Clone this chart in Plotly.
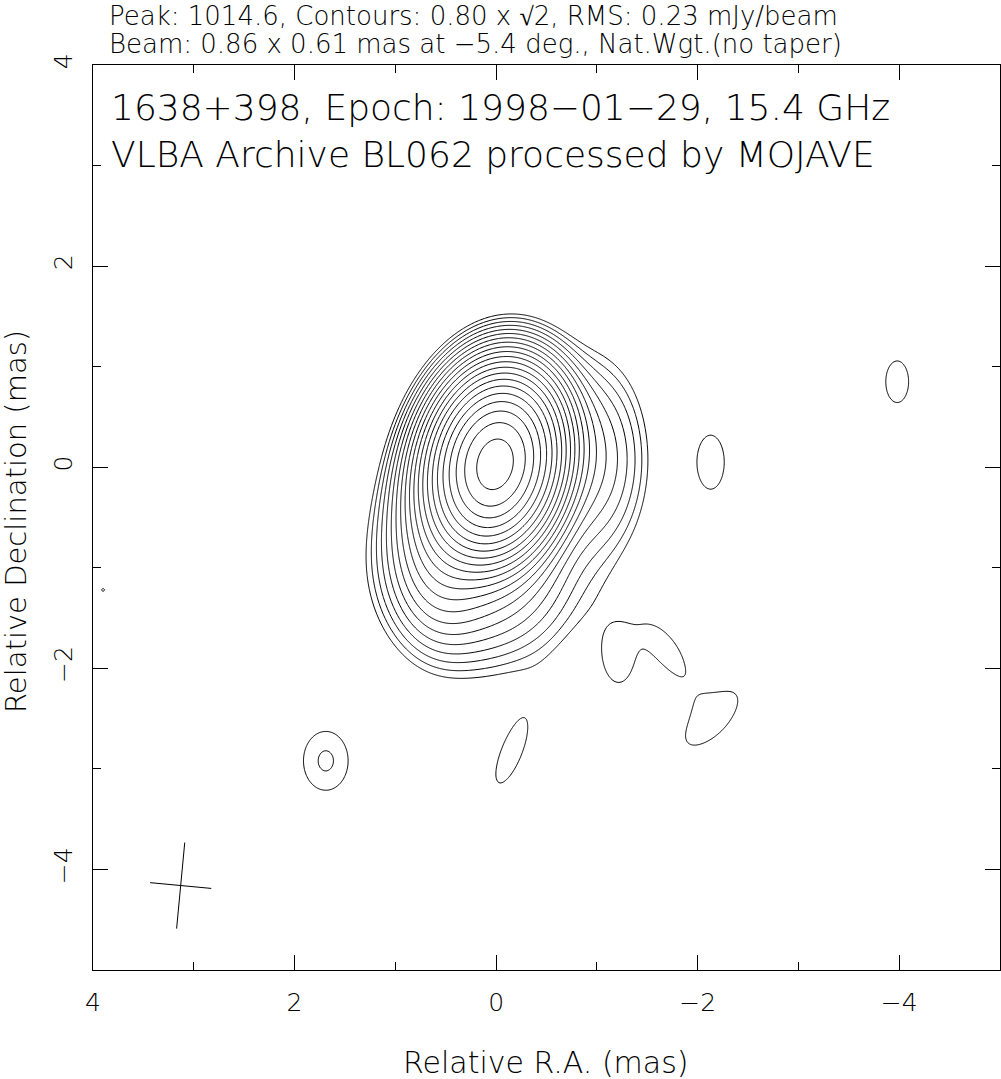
import numpy as np
import plotly.graph_objects as go

# ---- map parameters ----
peak_flux = 1014.6          # mJy/beam
base_level = 0.80           # lowest contour, mJy/beam
n_levels = 21               # 0.80 x sqrt(2)^k, k = 0..20

# ---- Gaussian model components of the image (x = rel. RA east+, y = rel. Dec) ----
comp_name = ["core", "south", "east", "west",
             "blob_w", "blob_far", "blob_sw", "blob_s",
             "bat_l", "bat_r", "blob_ssw", "speck"]
comp_x    = [0.01, 0.15, 0.55, -0.95, -2.13, -3.98, 1.69, -0.15, -1.22, -1.72, -2.14, 3.90]
comp_y    = [0.03, -1.00, -0.65, 0.08, 0.05, 0.85, -2.92, -2.84, -1.89, -1.85, -2.50, -1.22]
comp_peak = [1000.0, 7.7, 15.0, 4.4, 1.0, 1.0, 1.185, 1.0, 1.0, 1.0, 1.0, 0.85]
comp_sx   = [0.28, 0.50, 0.26, 0.30, 0.20, 0.17, 0.25, 0.15, 0.20, 0.14, 0.22, 0.05]
comp_sy   = [0.40, 0.50, 0.50, 0.55, 0.40, 0.31, 0.33, 0.48, 0.36, 0.33, 0.50, 0.05]
comp_pa   = [-12.0, 0.0, 0.0, 0.0, 0.0, 0.0, 0.0, -22.0, 0.0, 31.0, -44.0, 0.0]

# ---- restoring beam ----
beam_major = 0.86
beam_minor = 0.61
beam_pa = -5.4
beam_x = 3.13
beam_y = -4.16

# ---- axes ----
x_range = [4, -5]
y_range = [-5, 4]
major_ticks = [4, 2, 0, -2, -4]
minor_ticks_x = [3, 1, -1, -3]
minor_ticks_y = [3, 1, -1, -3]

title_line1 = "Peak: 1014.6, Contours: 0.80 x \u221a2, RMS: 0.23 mJy/beam"
title_line2 = "Beam: 0.86 x 0.61 mas at \u22125.4 deg., Nat.Wgt.(no taper)"
label_line1 = "1638+398, Epoch: 1998\u221201\u221229, 15.4 GHz"
label_line2 = "VLBA Archive BL062 processed by MOJAVE"
x_title = "Relative R.A. (mas)"
y_title = "Relative Declination (mas)"

# ---- build image ----
xg = np.linspace(-5, 4, 451)
yg = np.linspace(-5, 4, 451)
X, Y = np.meshgrid(xg, yg)
Z = np.zeros_like(X)
for x0, y0, p, sx, sy, pa in zip(comp_x, comp_y, comp_peak, comp_sx, comp_sy, comp_pa):
    th = np.deg2rad(pa)
    dx = X - x0
    dy = Y - y0
    a = dx * np.sin(th) + dy * np.cos(th)
    b = dx * np.cos(th) - dy * np.sin(th)
    Z += p * np.exp(-0.5 * (a / sy) ** 2 - 0.5 * (b / sx) ** 2)
# level index: k where Z = base * sqrt(2)^k
K = 2.0 * np.log2(np.maximum(Z, 1e-9) / base_level)
K = np.round(K, 3)

fig = go.Figure()
fig.add_trace(go.Contour(
    x=xg, y=yg, z=K,
    contours=dict(start=0, end=n_levels - 1, size=1, coloring="lines"),
    colorscale=[[0, "black"], [1, "black"]],
    line=dict(width=1, smoothing=0.6),
    showscale=False, hoverinfo="skip",
))

# beam cross
th = np.deg2rad(beam_pa)
ux, uy = np.sin(th), np.cos(th)
vx, vy = np.cos(th), -np.sin(th)
fig.add_trace(go.Scatter(
    x=[beam_x + ux * beam_major / 2, beam_x - ux * beam_major / 2, None,
       beam_x + vx * beam_minor / 2, beam_x - vx * beam_minor / 2],
    y=[beam_y + uy * beam_major / 2, beam_y - uy * beam_major / 2, None,
       beam_y + vy * beam_minor / 2, beam_y - vy * beam_minor / 2],
    mode="lines", line=dict(color="black", width=1), showlegend=False, hoverinfo="skip",
))

FONT = "DejaVu Sans"
tickfont = dict(family=FONT, size=25, color="black", weight=200)

axis_common = dict(
    showgrid=False, zeroline=False, showline=True, linecolor="black", linewidth=1,
    mirror="ticks", ticks="inside", ticklen=15, tickwidth=1, tickcolor="black",
    tickfont=tickfont, ticklabelstandoff=10,
)
fig.update_xaxes(range=x_range, tickvals=major_ticks,
                 minor=dict(tickvals=minor_ticks_x, ticks="inside", ticklen=8, tickcolor="black"),
                 **axis_common)
fig.update_yaxes(range=y_range, tickvals=major_ticks, tickangle=-90,
                 minor=dict(tickvals=minor_ticks_y, ticks="inside", ticklen=8, tickcolor="black"),
                 **axis_common)

W, H = 1001, 1079
ml, mr, mt, mb = 93, 1, 65, 109
pw, ph = W - ml - mr, H - mt - mb
def px(x):
    return (x - ml) / pw
def py(y):
    return (H - mb - y) / ph

annots = [
    dict(text=title_line1, x=px(108), y=py(16), size=26),
    dict(text=title_line2, x=px(108), y=py(44), size=26),
    dict(text=label_line1, x=px(110), y=py(108), size=36),
    dict(text=label_line2, x=px(110), y=py(155), size=36),
]
for a in annots:
    fig.add_annotation(text=a["text"], x=a["x"], y=a["y"], xref="paper", yref="paper",
                       xanchor="left", yanchor="middle", showarrow=False, borderpad=0,
                       font=dict(family=FONT, size=a["size"], color="black", weight=200))
fig.add_annotation(text=x_title, x=px(546), y=py(1062), xref="paper", yref="paper",
                   xanchor="center", yanchor="middle", showarrow=False,
                   font=dict(family=FONT, size=30, color="black", weight=200))
fig.add_annotation(text=y_title, x=px(16), y=py(522), xref="paper", yref="paper",
                   xanchor="center", yanchor="middle", showarrow=False, textangle=-90,
                   font=dict(family=FONT, size=29, color="black", weight=200))

fig.update_layout(
    width=W, height=H, margin=dict(l=ml, r=mr, t=mt, b=mb),
    paper_bgcolor="white", plot_bgcolor="white", showlegend=False,
)
fig.write_html("out.html", config={"displayModeBar": False},
               post_script="document.body.style.margin='0';document.body.style.overflow='hidden';")
